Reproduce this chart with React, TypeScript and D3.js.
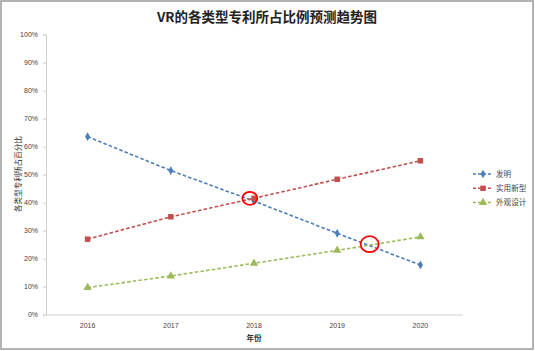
import React, { useEffect, useRef } from 'react';
import * as d3 from 'd3';

const years = ['2016', '2017', '2018', '2019', '2020'];
const invention = [0.635, 0.514, 0.405, 0.29, 0.177];
const utility = [0.269, 0.349, 0.415, 0.483, 0.549];
const design = [0.096, 0.1375, 0.183, 0.229, 0.277];
const seriesNames = ['发明', '实用新型', '外观设计'];
const yTicks = [0, 0.1, 0.2, 0.3, 0.4, 0.5, 0.6, 0.7, 0.8, 0.9, 1];
// red circles drawn on the picture, in (year, share) units
const marks = [
  { year: 2017.95, value: 0.415, rx: 7.5, ry: 6.5 },
  { year: 2019.39, value: 0.251, rx: 9, ry: 8 },
];

const colors = ['#4A7EBB', '#C0504D', '#9BBB59'];
const font = '"Liberation Sans", "Noto Sans CJK SC", sans-serif';

const App = () => {
  const ref = useRef<SVGSVGElement>(null);

  useEffect(() => {
    const W = 535;
    const H = 351;
    const margin = { left: 46, right: 73, top: 34.5, bottom: 36.5 };

    const svg = d3.select(ref.current);
    svg.selectAll('*').remove();

    // outer frame
    svg.append('rect')
      .attr('x', 1).attr('y', 1).attr('width', 532).attr('height', 348)
      .attr('fill', '#fff').attr('stroke', '#9a9a9a').attr('stroke-width', 1.5);

    svg.append('text')
      .attr('x', 267).attr('y', 22)
      .attr('text-anchor', 'middle')
      .attr('font-family', '"Noto Sans CJK SC", sans-serif')
      .attr('font-size', 13.5).attr('font-weight', 'bold').attr('fill', '#222')
      .text('VR的各类型专利所占比例预测趋势图');

    const x = d3.scaleBand().domain(years).range([margin.left, W - margin.right]);
    const y = d3.scaleLinear().domain([0, 1]).range([H - margin.bottom, margin.top]);
    const xYear = d3.scaleLinear()
      .domain([2016, 2020])
      .range([x('2016')! + x.bandwidth() / 2, x('2020')! + x.bandwidth() / 2]);

    const yAxis = svg.append('g')
      .attr('transform', `translate(${margin.left},0)`)
      .call(d3.axisLeft(y).tickValues(yTicks).tickFormat(d3.format('.0%')).tickSize(3).tickPadding(5));
    yAxis.select('.domain').attr('stroke', '#d0d0d0');
    yAxis.selectAll('.tick line').attr('stroke', '#d0d0d0');
    yAxis.selectAll('text').attr('font-family', font).attr('font-size', 7).attr('fill', '#444');

    const xAxis = svg.append('g')
      .attr('transform', `translate(0,${H - margin.bottom})`)
      .call(d3.axisBottom(x).tickSize(0).tickPadding(9));
    xAxis.select('.domain').attr('stroke', '#d0d0d0');
    xAxis.selectAll('text').attr('font-family', font).attr('font-size', 7).attr('fill', '#444');

    svg.append('text')
      .attr('transform', 'translate(21,174) rotate(-90)')
      .attr('text-anchor', 'middle')
      .attr('font-family', '"Noto Sans CJK SC", sans-serif')
      .attr('font-size', 7.6).attr('fill', '#333')
      .text('各类型专利所占百分比');

    svg.append('text')
      .attr('x', x('2018')! + x.bandwidth() / 2).attr('y', 341)
      .attr('text-anchor', 'middle')
      .attr('font-family', '"Noto Sans CJK SC", sans-serif')
      .attr('font-size', 7.6).attr('font-weight', 'bold').attr('fill', '#333')
      .text('年份');

    const allSeries = [invention, utility, design];
    const symbols = [d3.symbolDiamond, d3.symbolSquare, d3.symbolTriangle];
    const symSizes = [22, 30, 30];

    const line = d3.line<number>()
      .x((_, i) => x(years[i])! + x.bandwidth() / 2)
      .y((d) => y(d));

    allSeries.forEach((vals, s) => {
      svg.append('path')
        .datum(vals)
        .attr('d', line)
        .attr('fill', 'none')
        .attr('stroke', colors[s])
        .attr('stroke-width', 1.6)
        .attr('stroke-dasharray', '3.5,2.2');

      svg.append('g')
        .selectAll('path')
        .data(vals)
        .enter()
        .append('path')
        .attr('transform', (d, i) => `translate(${x(years[i])! + x.bandwidth() / 2},${y(d)})`)
        .attr('d', d3.symbol().type(symbols[s]).size(symSizes[s]))
        .attr('fill', colors[s]);
    });

    svg.append('g')
      .selectAll('ellipse')
      .data(marks)
      .enter()
      .append('ellipse')
      .attr('cx', (d) => xYear(d.year))
      .attr('cy', (d) => y(d.value))
      .attr('rx', (d) => d.rx)
      .attr('ry', (d) => d.ry)
      .attr('fill', 'none')
      .attr('stroke', '#ff0000')
      .attr('stroke-width', 1.8);

    const legend = svg.append('g').attr('transform', 'translate(473,174)');
    seriesNames.forEach((name, s) => {
      const g = legend.append('g').attr('transform', `translate(0,${s * 14.3})`);
      g.append('line')
        .attr('x1', 0).attr('x2', 20)
        .attr('stroke', colors[s]).attr('stroke-width', 1.5)
        .attr('stroke-dasharray', '3,2');
      g.append('path')
        .attr('transform', 'translate(10,0)')
        .attr('d', d3.symbol().type(symbols[s]).size(symSizes[s]))
        .attr('fill', colors[s]);
      g.append('text')
        .attr('x', 23).attr('y', 2.8)
        .attr('font-family', '"Noto Sans CJK SC", sans-serif')
        .attr('font-size', 7.6).attr('fill', '#444')
        .text(name);
    });
  }, []);

  return (
    <svg ref={ref} width={535} height={351} style={{ position: 'absolute', left: 0, top: 0 }} />
  );
};

export default App;
